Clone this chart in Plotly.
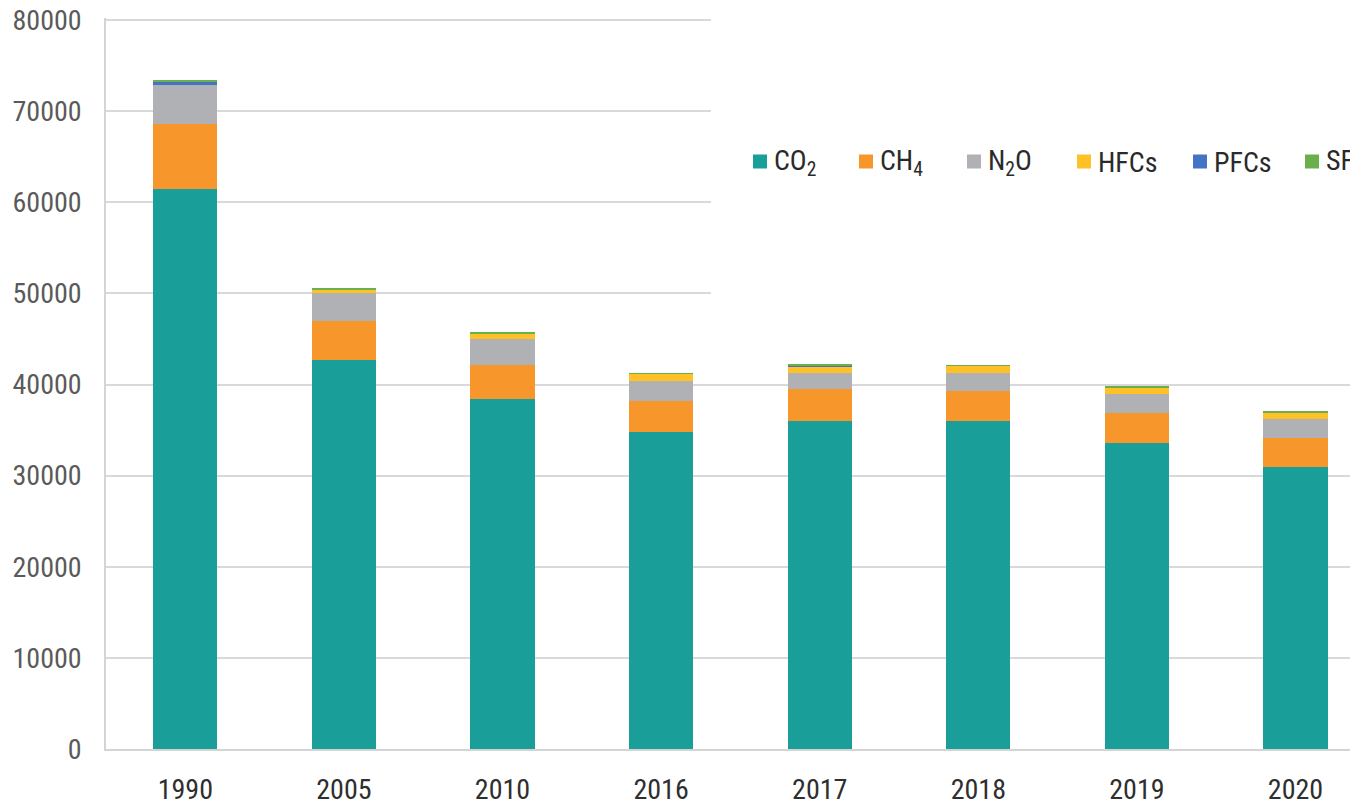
import plotly.graph_objects as go

years = ['1990', '2005', '2010', '2016', '2017', '2018', '2019', '2020']
co2 = [61400, 42700, 38400, 34800, 36000, 36000, 33600, 30900]
ch4 = [7200, 4300, 3760, 3400, 3470, 3290, 3300, 3260]
n2o = [4280, 3000, 2820, 2200, 1820, 1940, 2050, 2020]
hfcs = [40, 380, 580, 760, 730, 800, 735, 725]
pfcs = [330, 10, 40, 10, 30, 20, 20, 20]
sf6 = [120, 100, 90, 60, 110, 80, 90, 80]

series_names = ['CO<sub>2</sub>', 'CH<sub>4</sub>', 'N<sub>2</sub>O', 'HFCs', 'PFCs', 'SF<sub>6</sub>']
series_values = [co2, ch4, n2o, hfcs, pfcs, sf6]
series_colors = ['#1A9E9A', '#F7962A', '#B0B1B4', '#FFC125', '#4472C4', '#6AAF4B']

y_ticks = [0, 10000, 20000, 30000, 40000, 50000, 60000, 70000, 80000]

FONT = 'Roboto Condensed, Roboto, sans-serif'

fig = go.Figure()
for name, vals, col in zip(series_names, series_values, series_colors):
    fig.add_trace(go.Bar(x=years, y=vals, name=name, marker=dict(color=col, line=dict(width=0)),
                         showlegend=False))

OFF = 8  # page body margin
W, H = 1358 - OFF, 801 - OFF
L, R_px, T, B_px = 106 - OFF, 1358 - OFF, 18 - OFF, 749 - OFF
pw, ph = R_px - L, B_px - T
y_top = 80000 * ph / 729.0

def px2x(px):
    return (px - OFF - L) / pw

def px2y(py):
    return (B_px - (py - OFF)) / ph

shapes = [
    dict(type='rect', xref='paper', yref='paper', x0=px2x(711), x1=1.05, y0=px2y(300), y1=1.1,
         fillcolor='white', line=dict(width=0), layer='above'),
]
annotations = []
sq_left = [753, 859, 967, 1077, 1193, 1305]
sq_size = 14
cy = 161.5
for left, name, col in zip(sq_left, series_names, series_colors):
    shapes.append(dict(type='rect', xref='paper', yref='paper', x0=px2x(left), x1=px2x(left + sq_size),
                       y0=px2y(cy + sq_size / 2), y1=px2y(cy - sq_size / 2),
                       fillcolor=col, line=dict(width=0), layer='above'))
    annotations.append(dict(xref='paper', yref='paper', x=px2x(left + sq_size + 5), y=px2y(cy + 1),
                            xanchor='left', yanchor='middle', text=name, showarrow=False,
                            font=dict(family=FONT, size=28, color='#2a2a2a')))

fig.update_layout(
    width=W, height=H,
    margin=dict(l=L, r=W - R_px, t=T, b=H - B_px, autoexpand=False),
    plot_bgcolor='white', paper_bgcolor='white',
    barmode='stack', bargap=0.596,
    shapes=shapes, annotations=annotations,
    showlegend=False,
    xaxis=dict(type='category', range=[-0.5, -0.5 + pw / 158.6], showgrid=False,
               showline=True, linecolor='#d4d4d4', linewidth=1.5, ticks='',
               tickfont=dict(family=FONT, size=28, color='#2e2e2e'), ticklabelstandoff=15,
               ticklabeloverflow='allow'),
    yaxis=dict(range=[0, y_top], tickvals=y_ticks, ticktext=[str(v) for v in y_ticks],
               showgrid=True, gridcolor='#d9d9d9', gridwidth=1.5,
               showline=True, linecolor='#d4d4d4', linewidth=1.5, zeroline=False, ticks='',
               tickfont=dict(family=FONT, size=28, color='#5a5a5a'), ticklabelstandoff=17,
               ticklabeloverflow='allow'),
)

fig.write_html('out.html')
